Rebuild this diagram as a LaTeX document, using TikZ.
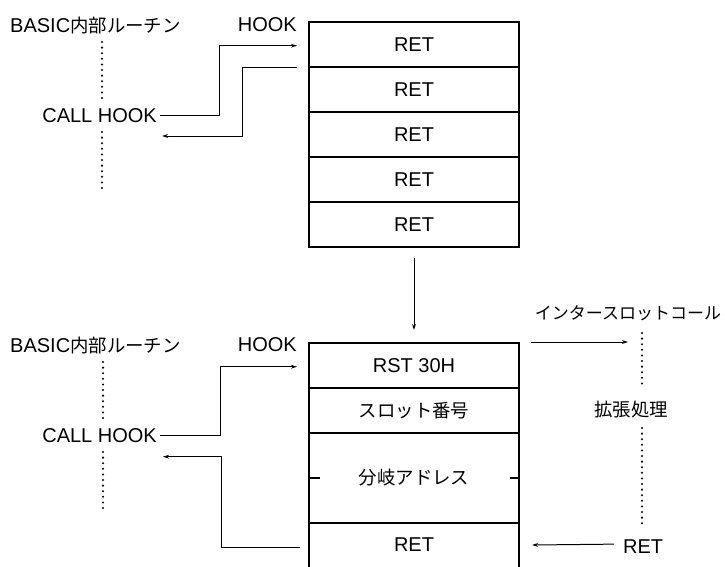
\documentclass[tikz,border=0pt]{standalone}
\usepackage{fontspec}
\setmainfont{Liberation Sans}
\newfontfamily\jp[Scale=0.92]{Noto Sans CJK JP}
\usetikzlibrary{arrows.meta,calc}
\begin{document}
\begin{tikzpicture}[x=1pt,y=-1pt,
  lbl/.style={font=\fontsize{20}{24}\selectfont, inner sep=0pt},
  cell/.style={draw, line width=1.6pt, minimum width=210pt, minimum height=45pt, inner sep=0pt, outer sep=0pt, font=\fontsize{20}{24}\selectfont, anchor=north west},
  tbl/.style={line width=1.6pt},
  conn/.style={line width=1pt},
  arr/.style={conn, -{Stealth[length=6pt,width=3.8pt]}},
  dots/.style={line width=2.3pt, line cap=round, dash pattern=on 0pt off 5.6pt}]
\useasboundingbox (0,0) rectangle (725,566);

% ---------- upper part ----------
\node[lbl, anchor=base west] (basicu) at (10,32) {BASIC{\jp 内部ルーチン}};
\node[lbl, anchor=base east] (hooku) at (297,31) {HOOK};
\node[lbl, anchor=base east] (callu) at (157,122) {CALL HOOK};

\node[cell] (u1) at (309,22) {RET};
\node[cell] (u2) at (309,67) {RET};
\node[cell] (u3) at (309,112) {RET};
\node[cell] (u4) at (309,157) {RET};
\node[cell] (u5) at (309,202) {RET};

\draw[dots] (102,42) -- (102,98);
\draw[dots] (102,132) -- (102,188);

\coordinate (cu) at ([xshift=3pt]callu.east);
\coordinate (ub) at (219,0);
\coordinate (ua) at (297,45.7);
\draw[arr] (cu) -- (cu -| ub) |- (ua);

\coordinate (ur0) at (297,67.5);
\coordinate (ur1) at (242,136);
\coordinate (ur2) at (162,136);
\draw[arr] (ur0) -| (ur1) -- (ur2);

% ---------- transition ----------
\draw[arr] ($(u5.south)+(0,11)$) -- ($(u5.south)+(0,83)$);

% ---------- lower part ----------
\node[lbl, anchor=base west] (basicl) at (10,352) {BASIC{\jp 内部ルーチン}};
\node[lbl, anchor=base east] (hookl) at (297,351) {HOOK};
\node[lbl, anchor=base east] (calll) at (157,442) {CALL HOOK};

\node[cell] (l1) at (309,343) {RST 30H};
\node[cell] (l2) at (309,388) {\jp スロット番号};
\node[cell, minimum height=90pt] (l3) at (309,433) {\jp 分岐アドレス};
\node[cell, draw=none, minimum height=44pt] (l4) at (309,523) {RET};
\draw[tbl] (l4.north west) -- ++(0,50);
\draw[tbl] (l4.north east) -- ++(0,50);
\draw[tbl] (l3.west) -- ++(11,0);
\draw[tbl] (l3.east) -- ++(-9,0);

\draw[dots] (103,362) -- (103,418);
\draw[dots] (103,452) -- (103,508);

\coordinate (cl) at ([xshift=3pt]calll.east);
\coordinate (lb) at (220,0);
\coordinate (la) at (297,366.7);
\draw[arr] (cl) -- (cl -| lb) |- (la);

\coordinate (lr0) at (300,547.7);
\coordinate (lr1) at (221,456.7);
\coordinate (lr2) at (163,456.7);
\draw[arr] (lr0) -| (lr1) -- (lr2);

% ---------- right side ----------
\node[lbl, font=\fontsize{18.5}{22}\selectfont] (iscl) at (628,313) {\jp インタースロットコール};
\node[lbl] (kaku) at (631,410) {\jp 拡張処理};
\node[lbl, anchor=base west] (retr) at (623,553) {RET};

\coordinate (isc) at (628,342);
\draw[arr] ($(l1.north east)+(12,-1)$) -- (isc);
\draw[dots] (642,333) -- (642,389);
\draw[dots] (642,428) -- (642,527);
\draw[arr] ($(retr.west)+(-9,-2)$) -- ($(l4.east)+(13,0)$);
\end{tikzpicture}
\end{document}
